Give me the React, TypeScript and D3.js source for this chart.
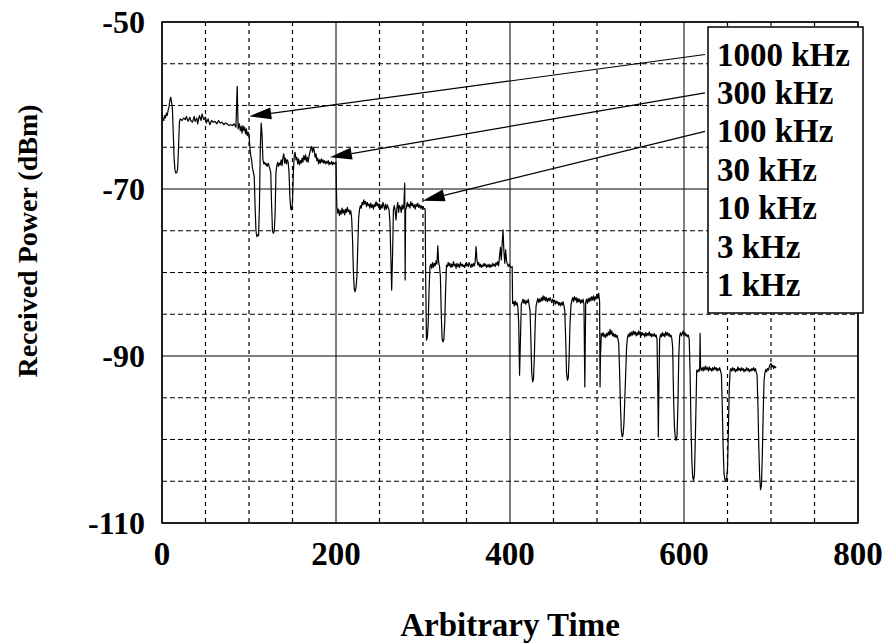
import * as d3 from "d3";
import React from "react";

const width = 886;
const height = 644;
const margin = { top: 22, right: 28, bottom: 121, left: 162 };
const font = "'Liberation Serif', 'Times New Roman', serif";

const xTicks = [0, 200, 400, 600, 800];
const yTicks = [-50, -70, -90, -110];
const legendLabels = ["1000 kHz", "300 kHz", "100 kHz", "30 kHz", "10 kHz", "3 kHz", "1 kHz"];
// arrow tips (data coords) for the first three legend entries
const arrowTips: [number, number][] = [
  [100.3, -61.3],
  [193, -66.2],
  [299.7, -71.4],
];

// received power trace, split by resolution bandwidth step
const trace1000kHz: [number, number][] = [
  [0, -61.0], [1, -61.6], [2, -61.8], [3, -61.2], [4, -61.5], [5, -60.9], [6, -61.2], [7, -60.6],
  [8, -60.2], [9, -59.4], [10, -59.0], [11, -59.6], [12, -60.5], [13, -63.5], [14, -66.5], [15, -67.8],
  [16, -68.1], [17, -68.0], [18, -67.6], [19, -65.0], [20, -62.0], [21, -61.6], [23, -61.8], [25, -61.5],
  [27, -61.7], [28, -61.3], [30, -61.9], [32, -61.4], [33, -61.8], [35, -62.0], [37, -61.3], [38, -61.9],
  [40, -61.5], [41, -62.2], [43, -61.2], [45, -61.8], [46, -61.0], [48, -61.7], [50, -61.4], [51, -62.1],
  [53, -61.6], [55, -62.3], [57, -61.8], [59, -62.0], [61, -61.9], [63, -62.2], [65, -61.8], [67, -62.1],
  [69, -62.0], [71, -62.3], [73, -62.1], [75, -62.2], [77, -62.4], [79, -62.3], [81, -62.4], [83, -62.2],
  [85, -62.6], [86, -59.0], [86.5, -57.7], [87, -60.5], [87.5, -62.8], [89, -62.2], [90, -63.0], [91, -62.5],
  [92, -63.3], [93, -62.4], [94, -63.0], [95, -62.6], [96, -63.4], [97, -62.8], [98, -63.6], [99, -63.2],
];

const trace300kHz: [number, number][] = [
  [100, -63.5], [101, -65.0], [102, -66.0], [103, -66.5], [104, -67.5], [106, -68.5], [107, -72.0], [108, -75.0],
  [109, -75.7], [110, -75.5], [111, -75.6], [112, -72.0], [113, -65.0], [114, -62.1], [115, -63.5], [116, -66.5],
  [117, -67.0], [118, -66.8], [119, -67.1], [120, -67.0], [121, -67.3], [122, -66.9], [123, -67.2], [125, -68.0],
  [126, -72.0], [127, -75.0], [128, -75.3], [129, -75.1], [130, -73.0], [131, -68.0], [132, -67.2], [133, -66.8],
  [134, -67.3], [135, -66.9], [136, -67.1], [137, -66.5], [138, -67.2], [139, -66.2], [140, -65.8], [141, -66.9],
  [142, -66.3], [143, -67.0], [144, -66.5], [145, -66.8], [146, -68.0], [147, -71.0], [148, -72.4], [149, -72.5],
  [150, -71.5], [151, -68.0], [152, -66.0], [153, -65.6], [154, -66.5], [155, -66.2], [156, -67.0], [157, -66.4],
  [158, -67.1], [159, -66.6], [160, -66.9], [161, -66.3], [162, -66.8], [163, -66.0], [164, -66.5], [165, -65.9],
  [166, -66.7], [167, -66.2], [168, -66.8], [169, -66.1], [170, -65.6], [171, -65.2], [172, -64.9], [173, -65.6],
  [174, -65.0], [175, -65.4], [176, -66.2], [177, -65.8], [178, -66.6], [179, -66.3], [180, -67.0], [181, -66.5],
  [182, -66.9], [183, -66.4], [184, -66.8], [185, -66.5], [186, -66.9], [187, -66.6], [188, -67.0], [189, -66.7],
  [190, -66.9], [191, -66.6], [192, -67.1], [193, -66.8], [194, -67.0], [195, -66.7], [196, -67.1], [197, -66.8],
  [198, -67.0], [199, -66.9], [200, -66.8],
];

const trace100kHz: [number, number][] = [
  [200.5, -70.0], [201, -72.1], [202, -72.9], [203, -72.4], [204, -73.2], [205, -72.6], [206, -73.0], [207, -72.3],
  [208, -72.9], [209, -72.5], [210, -73.1], [211, -72.4], [212, -72.8], [213, -72.2], [214, -72.7], [215, -72.5],
  [216, -73.0], [217, -72.6], [218, -73.5], [219, -76.0], [220, -80.0], [221, -82.0], [222, -82.3], [223, -81.8],
  [224, -80.5], [225, -77.0], [226, -73.5], [227, -72.5], [228, -72.0], [229, -72.3], [230, -71.6], [231, -71.9],
  [232, -71.3], [233, -71.8], [234, -71.5], [235, -72.1], [236, -71.6], [237, -72.0], [238, -71.8], [239, -72.3],
  [240, -71.7], [241, -72.2], [242, -71.9], [243, -72.4], [244, -71.8], [245, -72.1], [246, -71.5], [247, -72.0],
  [248, -71.7], [249, -72.2], [250, -71.8], [251, -72.4], [252, -71.9], [253, -72.3], [254, -71.6], [255, -72.0],
  [256, -72.5], [257, -71.8], [258, -72.4], [259, -71.9], [260, -72.2], [261, -72.5], [262, -74.0], [263, -78.0],
  [264, -82.1], [265, -78.0], [266, -72.5], [267, -72.0], [268, -72.6], [269, -73.7], [270, -72.3], [271, -71.6],
  [272, -72.8], [273, -72.0], [274, -72.2], [275, -72.8], [276, -71.9], [277, -72.4], [278, -72.0], [279, -69.3],
  [279.5, -80.9], [280, -72.5], [281, -72.2], [282, -71.6], [283, -72.1], [284, -71.8], [285, -72.3], [286, -71.5],
  [287, -72.0], [288, -71.7], [289, -72.2], [290, -71.9], [291, -72.4], [292, -71.8], [293, -72.1], [294, -71.7],
  [295, -72.2], [296, -71.9], [297, -72.3], [298, -72.0], [299, -72.4], [300, -72.1], [301, -72.3], [302.5, -72.4],
];

const trace30kHz: [number, number][] = [
  [303, -80.0], [304, -88.1], [305, -87.8], [306, -86.0], [307, -82.0], [308, -79.3], [309, -79.0], [310, -79.5],
  [311, -78.8], [312, -79.4], [313, -78.9], [314, -79.2], [315, -78.6], [316, -79.0], [317, -76.8], [318, -78.8],
  [319, -79.3], [320, -80.5], [321, -85.0], [322, -88.0], [323, -88.3], [324, -88.0], [325, -86.0], [326, -82.0],
  [327, -79.1], [328, -79.3], [329, -78.8], [330, -79.2], [331, -78.9], [332, -79.4], [333, -79.0], [334, -79.3],
  [335, -78.7], [336, -79.2], [337, -79.0], [338, -79.5], [339, -78.9], [340, -79.3], [341, -79.0], [342, -79.4],
  [343, -78.8], [344, -79.2], [345, -79.0], [346, -79.3], [347, -79.1], [348, -79.4], [349, -78.9], [350, -79.2],
  [351, -79.0], [352, -79.3], [353, -78.8], [354, -79.1], [355, -79.4], [356, -79.0], [357, -79.3], [358, -78.9],
  [359, -79.2], [360, -78.7], [361, -76.9], [362, -78.5], [363, -79.1], [364, -78.8], [365, -79.3], [366, -79.0],
  [367, -79.4], [368, -79.1], [369, -79.3], [370, -78.9], [371, -79.2], [372, -79.0], [373, -79.4], [374, -79.1],
  [375, -79.3], [376, -79.0], [377, -79.4], [378, -79.1], [379, -79.3], [380, -78.9], [381, -79.2], [382, -79.0],
  [383, -79.3], [384, -78.8], [385, -79.1], [386, -78.7], [387, -79.2], [388, -78.0], [389, -77.0], [390, -78.5],
  [391, -76.5], [392, -74.9], [393, -77.5], [394, -78.9], [395, -77.3], [396, -78.6], [397, -79.0], [398, -79.3],
  [399, -79.0], [400, -79.2], [401, -79.4], [402.5, -79.3],
];

const trace10kHz: [number, number][] = [
  [403, -83.7], [404, -83.5], [405, -84.0], [406, -83.4], [407, -83.9], [408, -83.6], [409, -84.1], [410, -86.0],
  [411, -92.3], [412, -88.0], [413, -83.8], [414, -83.5], [415, -83.2], [416, -83.7], [417, -83.3], [418, -83.8],
  [419, -83.4], [420, -83.6], [421, -83.2], [422, -83.9], [423, -84.5], [424, -88.0], [425, -92.0], [426, -93.1],
  [427, -92.8], [428, -90.0], [429, -86.0], [430, -84.0], [431, -83.5], [432, -83.1], [433, -83.6], [434, -83.2],
  [435, -83.5], [436, -83.0], [437, -83.4], [438, -82.8], [439, -83.3], [440, -82.9], [441, -83.4], [442, -83.0],
  [443, -83.5], [444, -83.1], [445, -83.4], [446, -83.0], [447, -83.3], [448, -83.6], [449, -83.2], [450, -83.5],
  [451, -83.3], [452, -83.8], [453, -83.4], [454, -83.7], [455, -83.5], [456, -83.9], [457, -83.6], [458, -84.0],
  [459, -83.6], [460, -83.9], [461, -83.5], [462, -84.0], [463, -84.6], [464, -88.0], [465, -92.0], [466, -92.9],
  [467, -92.6], [468, -90.0], [469, -86.0], [470, -84.0], [471, -83.4], [472, -83.0], [473, -83.5], [474, -82.9],
  [475, -83.3], [476, -83.0], [477, -83.6], [478, -83.1], [479, -83.5], [480, -83.2], [481, -83.7], [482, -83.3],
  [483, -83.6], [484, -83.2], [485, -83.8], [486, -93.7], [487, -83.6], [488, -83.2], [489, -83.7], [490, -83.1],
  [491, -83.5], [492, -83.0], [493, -83.4], [494, -82.9], [495, -83.3], [496, -82.8], [497, -83.4], [498, -82.9],
  [499, -83.2], [500, -82.6], [501, -83.1], [502, -82.5], [503, -83.5],
];

const trace3kHz: [number, number][] = [
  [503.5, -93.7], [504, -90.0], [505, -87.3], [506, -87.6], [507, -87.2], [508, -87.7], [509, -87.4], [510, -87.8],
  [511, -87.3], [512, -87.6], [513, -87.1], [514, -87.5], [515, -86.8], [516, -87.4], [517, -87.0], [518, -87.6],
  [519, -87.3], [520, -87.7], [521, -87.4], [522, -87.8], [523, -87.5], [524, -87.9], [525, -88.5], [526, -92.0],
  [527, -96.0], [528, -99.0], [529, -99.7], [530, -99.4], [531, -98.0], [532, -95.0], [533, -92.0], [534, -89.0],
  [535, -87.8], [536, -87.4], [537, -87.7], [538, -87.2], [539, -87.6], [540, -87.1], [541, -87.5], [542, -87.0],
  [543, -87.4], [544, -87.1], [545, -87.6], [546, -87.2], [547, -87.5], [548, -87.0], [549, -87.4], [550, -87.1],
  [551, -87.6], [552, -87.2], [553, -87.5], [554, -87.3], [555, -87.7], [556, -87.2], [557, -87.6], [558, -87.3],
  [559, -87.5], [560, -87.1], [561, -87.6], [562, -87.3], [563, -87.7], [564, -87.4], [565, -87.6], [566, -87.3],
  [567, -87.7], [568, -87.5], [569, -88.0], [570, -95.0], [570.5, -99.7], [571, -95.0], [572, -88.0], [573, -87.4],
  [574, -87.7], [575, -87.2], [576, -87.6], [577, -87.3], [578, -87.7], [579, -87.1], [580, -87.5], [581, -87.2],
  [582, -87.6], [583, -87.3], [584, -87.7], [585, -87.5], [586, -87.9], [587, -89.0], [588, -95.0], [589, -98.5],
  [590, -99.8], [591, -100.1], [592, -99.5], [593, -96.0], [594, -90.0], [595, -87.6], [596, -87.2], [597, -87.6],
  [598, -87.3], [599, -87.0], [600, -87.5], [601, -87.2], [602, -87.6], [603, -87.4], [604, -87.7], [605, -87.5],
  [606, -88.0], [607, -92.0], [608, -98.0], [609, -102.5], [610, -104.5], [611, -104.9], [612, -104.2], [613, -100.0],
  [614, -95.0],
];

const trace1kHz: [number, number][] = [
  [614.6, -91.7], [616, -91.9], [617, -91.6], [618, -91.8], [618.5, -87.3], [619, -91.3], [620, -91.7], [621, -91.4],
  [622, -91.8], [623, -91.3], [624, -91.7], [625, -91.2], [626, -91.6], [627, -91.4], [628, -91.8], [629, -91.3],
  [630, -91.7], [631, -91.5], [632, -91.8], [633, -91.4], [634, -91.7], [635, -91.3], [636, -91.6], [637, -91.4],
  [638, -91.8], [639, -91.5], [640, -91.7], [641, -91.4], [642, -91.8], [643, -92.2], [644, -96.0], [645, -101.0],
  [646, -104.0], [647, -104.8], [648, -105.0], [649, -104.6], [650, -103.5], [651, -99.0], [652, -94.0], [653, -91.8],
  [654, -91.5], [655, -91.8], [656, -91.4], [657, -91.7], [658, -91.5], [659, -91.9], [660, -91.6], [661, -91.8],
  [662, -91.3], [663, -91.7], [664, -91.5], [665, -91.8], [666, -91.4], [667, -91.7], [668, -91.5], [669, -91.9],
  [670, -91.6], [671, -91.8], [672, -91.4], [673, -91.7], [674, -91.5], [675, -91.9], [676, -91.6], [677, -91.8],
  [678, -91.5], [679, -91.7], [680, -91.4], [681, -91.8], [682, -91.5], [683, -91.9], [684, -92.3], [685, -96.0],
  [686, -101.0], [687, -104.5], [688, -106.0], [689, -105.5], [690, -102.0], [691, -97.0], [692, -93.0], [693, -92.0],
  [694, -91.6], [695, -91.9], [696, -91.5], [697, -91.7], [698, -91.3], [699, -91.0], [700, -90.9], [701, -91.3],
  [702, -91.1], [703, -91.5], [704, -91.2], [705, -91.4], [706, -91.3],
];

const trace = [
  ...trace1000kHz,
  ...trace300kHz,
  ...trace100kHz,
  ...trace30kHz,
  ...trace10kHz,
  ...trace3kHz,
  ...trace1kHz,
];

const x = d3
  .scaleLinear()
  .domain([0, 800])
  .range([margin.left, width - margin.right]);
const y = d3
  .scaleLinear()
  .domain([-110, -50])
  .range([height - margin.bottom, margin.top]);

const line = d3
  .line<[number, number]>()
  .x((d) => x(d[0]))
  .y((d) => y(d[1]));

// legend box layout
const legend = { x: 708, y: 27, w: 155, h: 286, textX: 717, firstBaseline: 65.5, step: 38.4 };

const arrowHead = (x0: number, y0: number, tx: number, ty: number) => {
  const len = 22;
  const half = 6;
  const dx = tx - x0;
  const dy = ty - y0;
  const d = Math.hypot(dx, dy);
  const ux = dx / d;
  const uy = dy / d;
  const bx = tx - ux * len;
  const by = ty - uy * len;
  return {
    base: [bx, by],
    points: `${tx},${ty} ${bx - uy * half},${by + ux * half} ${bx + uy * half},${by - ux * half}`,
  };
};

export default function App() {
  const xGrid = d3.range(0, 801, 50);
  const yGrid = d3.range(-110, -49, 5);
  const x0 = margin.left;
  const x1 = width - margin.right;
  const y0 = margin.top;
  const y1 = height - margin.bottom;

  return (
    <svg
      width={width}
      height={height}
      style={{ position: "absolute", left: 0, top: 0, background: "#fff" }}
      fontFamily={font}
      fontWeight="bold"
    >
      <rect x={0} y={0} width={width} height={height} fill="#fff" />
      {/* grid */}
      {xGrid.map((v) => (
        <line
          key={"xg" + v}
          x1={x(v)}
          x2={x(v)}
          y1={y0}
          y2={y1}
          stroke="#000"
          strokeWidth={v % 200 === 0 ? 1 : 1.2}
          strokeDasharray={v % 200 === 0 ? undefined : "4,4"}
        />
      ))}
      {yGrid.map((v) => (
        <line
          key={"yg" + v}
          x1={x0}
          x2={x1}
          y1={y(v)}
          y2={y(v)}
          stroke="#000"
          strokeWidth={(v + 110) % 20 === 0 ? 1 : 1.2}
          strokeDasharray={(v + 110) % 20 === 0 ? undefined : "5,3"}
        />
      ))}
      <rect x={x0} y={y0} width={x1 - x0} height={y1 - y0} fill="none" stroke="#000" strokeWidth={1.5} />

      {/* trace */}
      <path d={line(trace) ?? ""} fill="none" stroke="#000" strokeWidth={1.2} strokeLinejoin="round" />

      {/* axes labels */}
      {yTicks.map((v) => (
        <text key={"yt" + v} x={145} y={y(v)} dy="0.35em" textAnchor="end" fontSize={32}>
          {v}
        </text>
      ))}
      {xTicks.map((v) => (
        <text key={"xt" + v} x={x(v)} y={565} textAnchor="middle" fontSize={33}>
          {v}
        </text>
      ))}
      <text x={(x0 + x1) / 2} y={636} textAnchor="middle" fontSize={33}>
        Arbitrary Time
      </text>
      <text transform="translate(37,241) rotate(-90)" textAnchor="middle" fontSize={28}>
        Received Power (dBm)
      </text>

      {/* legend */}
      <rect x={legend.x} y={legend.y} width={legend.w} height={legend.h} fill="#fff" stroke="#000" strokeWidth={1.5} />
      {legendLabels.map((l, i) => (
        <text key={l} x={legend.textX} y={legend.firstBaseline + i * legend.step} fontSize={33}>
          {l}
        </text>
      ))}
      {arrowTips.map(([tx, ty], i) => {
        const sx = legend.x - 3;
        const sy = legend.firstBaseline + i * legend.step - 11;
        const h = arrowHead(sx, sy, x(tx), y(ty));
        return (
          <g key={"ar" + i}>
            <line x1={sx} y1={sy} x2={h.base[0]} y2={h.base[1]} stroke="#000" strokeWidth={1.2} />
            <polygon points={h.points} fill="#000" />
          </g>
        );
      })}
    </svg>
  );
}
